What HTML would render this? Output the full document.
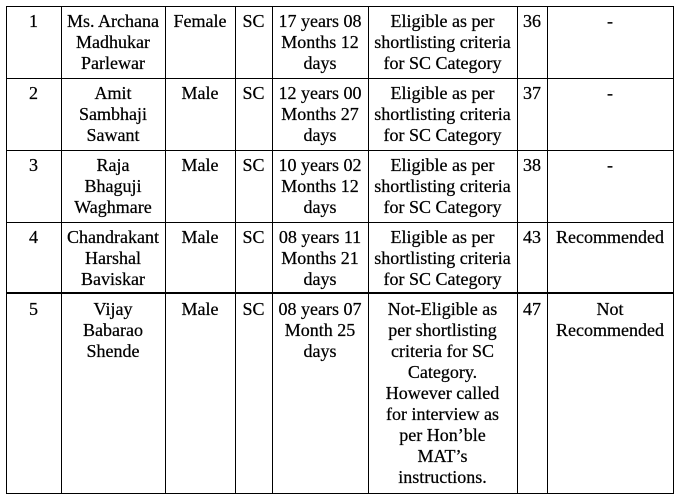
<!DOCTYPE html>
<html><head><style>
body{margin:0;width:678px;height:498px;background:#fff;position:relative;font-family:"Liberation Serif","DejaVu Serif","Times New Roman",Times,serif;font-size:18px;color:#000;overflow:hidden}
.h{position:absolute;height:1px;background:#000}
.v{position:absolute;width:1px;background:#000}
.c{position:absolute;text-align:center;line-height:21px;white-space:nowrap;-webkit-text-stroke:0.25px #000}
</style></head><body>
<div class="h" style="left:6px;width:668px;top:6px"></div>
<div class="h" style="left:6px;width:668px;top:78px"></div>
<div class="h" style="left:6px;width:668px;top:150px"></div>
<div class="h" style="left:6px;width:668px;top:222px"></div>
<div class="h" style="left:6px;width:668px;top:292px;height:2px"></div>
<div class="h" style="left:6px;width:668px;top:493px"></div>
<div class="v" style="left:6px;top:6px;height:488px"></div>
<div class="v" style="left:61px;top:6px;height:488px"></div>
<div class="v" style="left:165px;top:6px;height:488px"></div>
<div class="v" style="left:235px;top:6px;height:488px"></div>
<div class="v" style="left:272px;top:6px;height:488px"></div>
<div class="v" style="left:368px;top:6px;height:488px"></div>
<div class="v" style="left:517px;top:6px;height:488px"></div>
<div class="v" style="left:547px;top:6px;height:488px"></div>
<div class="v" style="left:673px;top:6px;height:488px"></div>

<div class="c" style="left:6px;width:55px;top:11px">1</div>
<div class="c" style="left:61px;width:104px;top:11px">Ms. Archana<br>Madhukar<br>Parlewar</div>
<div class="c" style="left:165px;width:70px;top:11px">Female</div>
<div class="c" style="left:235px;width:37px;top:11px">SC</div>
<div class="c" style="left:272px;width:96px;top:11px">17 years 08<br>Months 12<br>days</div>
<div class="c" style="left:368px;width:149px;top:11px">Eligible as per<br>shortlisting criteria<br>for SC Category</div>
<div class="c" style="left:517px;width:30px;top:11px">36</div>
<div class="c" style="left:547px;width:126px;top:11px">-</div>

<div class="c" style="left:6px;width:55px;top:83px">2</div>
<div class="c" style="left:61px;width:104px;top:83px">Amit<br>Sambhaji<br>Sawant</div>
<div class="c" style="left:165px;width:70px;top:83px">Male</div>
<div class="c" style="left:235px;width:37px;top:83px">SC</div>
<div class="c" style="left:272px;width:96px;top:83px">12 years 00<br>Months 27<br>days</div>
<div class="c" style="left:368px;width:149px;top:83px">Eligible as per<br>shortlisting criteria<br>for SC Category</div>
<div class="c" style="left:517px;width:30px;top:83px">37</div>
<div class="c" style="left:547px;width:126px;top:83px">-</div>

<div class="c" style="left:6px;width:55px;top:155px">3</div>
<div class="c" style="left:61px;width:104px;top:155px">Raja<br>Bhaguji<br>Waghmare</div>
<div class="c" style="left:165px;width:70px;top:155px">Male</div>
<div class="c" style="left:235px;width:37px;top:155px">SC</div>
<div class="c" style="left:272px;width:96px;top:155px">10 years 02<br>Months 12<br>days</div>
<div class="c" style="left:368px;width:149px;top:155px">Eligible as per<br>shortlisting criteria<br>for SC Category</div>
<div class="c" style="left:517px;width:30px;top:155px">38</div>
<div class="c" style="left:547px;width:126px;top:155px">-</div>

<div class="c" style="left:6px;width:55px;top:227px">4</div>
<div class="c" style="left:61px;width:104px;top:227px">Chandrakant<br>Harshal<br>Baviskar</div>
<div class="c" style="left:165px;width:70px;top:227px">Male</div>
<div class="c" style="left:235px;width:37px;top:227px">SC</div>
<div class="c" style="left:272px;width:96px;top:227px">08 years 11<br>Months 21<br>days</div>
<div class="c" style="left:368px;width:149px;top:227px">Eligible as per<br>shortlisting criteria<br>for SC Category</div>
<div class="c" style="left:517px;width:30px;top:227px">43</div>
<div class="c" style="left:547px;width:126px;top:227px">Recommended</div>

<div class="c" style="left:6px;width:55px;top:299px">5</div>
<div class="c" style="left:61px;width:104px;top:299px">Vijay<br>Babarao<br>Shende</div>
<div class="c" style="left:165px;width:70px;top:299px">Male</div>
<div class="c" style="left:235px;width:37px;top:299px">SC</div>
<div class="c" style="left:272px;width:96px;top:299px">08 years 07<br>Month 25<br>days</div>
<div class="c" style="left:368px;width:149px;top:299px">Not-Eligible as<br>per shortlisting<br>criteria for SC<br>Category.<br>However called<br>for interview as<br>per Hon’ble<br>MAT’s<br>instructions.</div>
<div class="c" style="left:517px;width:30px;top:299px">47</div>
<div class="c" style="left:547px;width:126px;top:299px">Not<br>Recommended</div>
</body></html>
